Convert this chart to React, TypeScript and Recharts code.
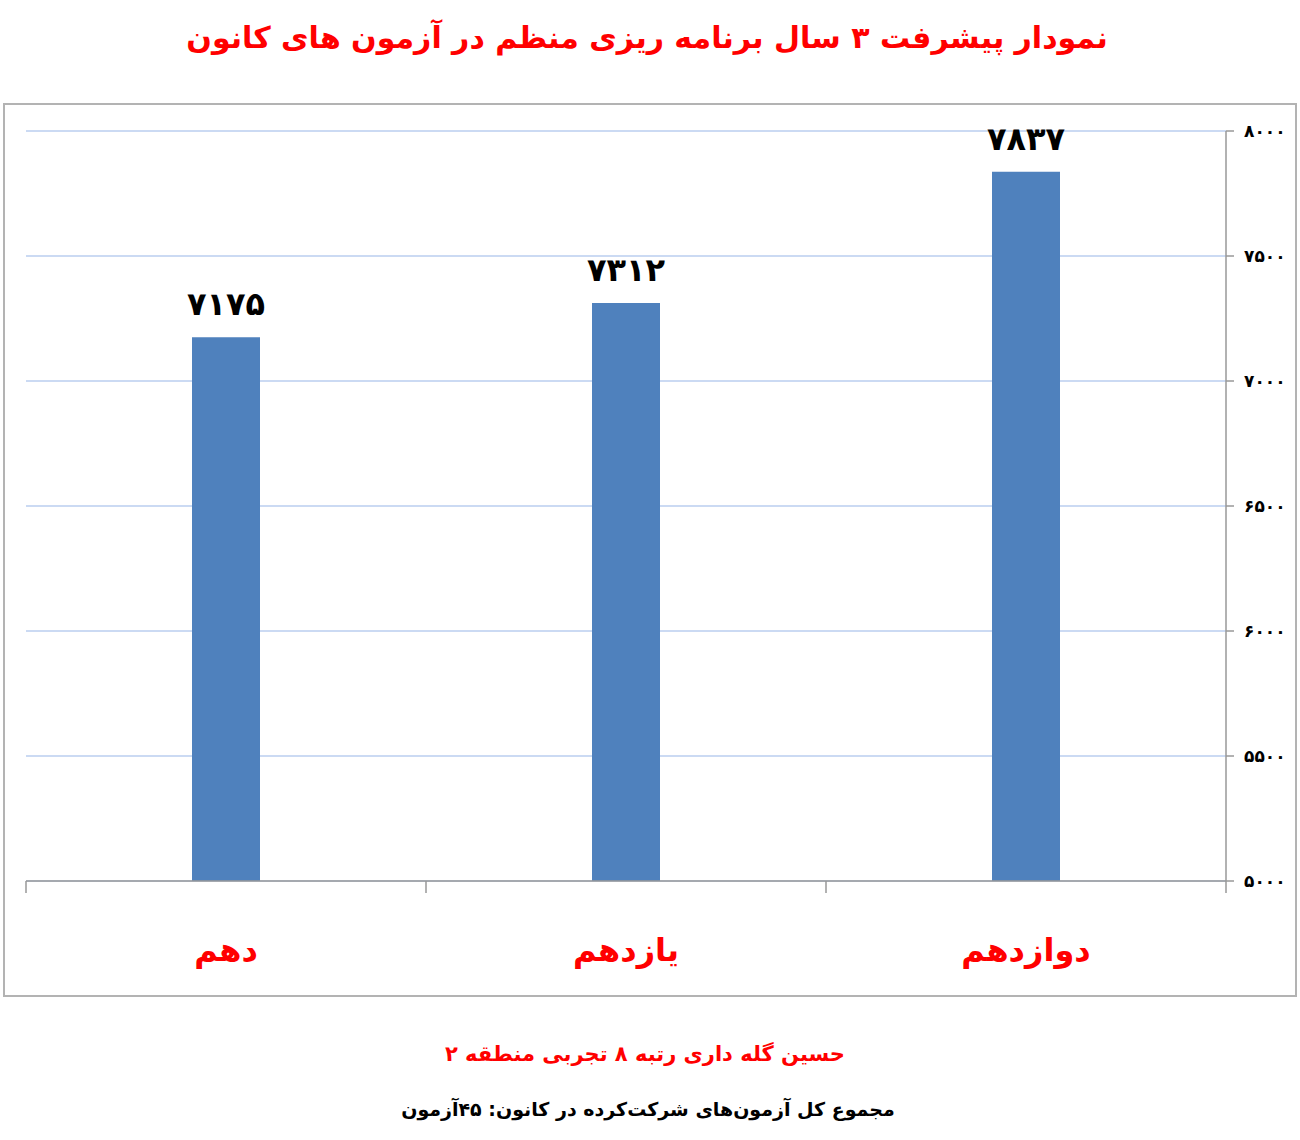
import React from "react";
import {
  BarChart,
  Bar,
  XAxis,
  YAxis,
  CartesianGrid,
  LabelList,
} from "recharts";

const grades = ["دهم", "یازدهم", "دوازدهم"];
const scores = [7175, 7312, 7837];
const yTicks = [5000, 5500, 6000, 6500, 7000, 7500, 8000];

const title = "نمودار پیشرفت ۳ سال برنامه ریزی منظم در آزمون های کانون";
const footerName = "حسین گله داری رتبه ۸ تجربی منطقه ۲";
const footerCount = "مجموع کل آزمون‌های شرکت‌کرده در کانون:  ۴۵آزمون";

const data = grades.map((name, i) => ({ name, value: scores[i] }));

const FONT = "'DejaVu Sans', sans-serif";
const faDigits = (v: number | string) =>
  String(v).replace(/[0-9]/g, (d) => "۰۱۲۳۴۵۶۷۸۹"[Number(d)]);

// category label plus tick marks on the band edges (Excel style)
const CategoryTick = ({ x, y, payload, index, visibleTicksCount }: any) => {
  const half = payload.offset || 0;
  const last = index === (visibleTicksCount ?? grades.length) - 1;
  return (
    <g>
      <line x1={x - half} x2={x - half} y1={y} y2={y + 12} stroke="#999" strokeWidth={1.5} />
      {last && (
        <line x1={x + half} x2={x + half} y1={y} y2={y + 12} stroke="#999" strokeWidth={1.5} />
      )}
      <text
        x={x}
        y={y + 80}
        textAnchor="middle"
        fill="#ff0000"
        fontSize={32}
        fontWeight="bold"
        fontFamily={FONT}
        direction="rtl"
      >
        {payload.value}
      </text>
    </g>
  );
};

export default function App() {
  return (
    <div
      style={{
        position: "absolute",
        left: 0,
        top: 0,
        width: 1300,
        height: 1140,
        background: "#fff",
        fontFamily: FONT,
      }}
    >
      <div
        style={{
          position: "absolute",
          top: 20,
          left: 0,
          width: 1294,
          textAlign: "center",
          color: "#ff0000",
          fontSize: 30,
          fontWeight: "bold",
          direction: "rtl",
        }}
      >
        {title}
      </div>
      <div
        style={{
          position: "absolute",
          left: 3,
          top: 103,
          width: 1294,
          height: 894,
          boxSizing: "border-box",
          border: "2px solid #b3b3b3",
        }}
      />
      <div style={{ position: "absolute", left: 3, top: 103 }}>
        <BarChart
          width={1294}
          height={894}
          data={data}
          margin={{ top: 28, right: 10, left: 23, bottom: 0 }}
          barCategoryGap="41.5%"
        >
          <CartesianGrid
            horizontal
            vertical={false}
            stroke="#97b6e8"
            strokeWidth={1.2}
          />
          <XAxis
            dataKey="name"
            stroke="#999"
            strokeWidth={1.5}
            tickLine={false}
            tickSize={0}
            tickMargin={0}
            height={116}
            tick={<CategoryTick />}
            interval={0}
          />
          <YAxis
            orientation="right"
            domain={[5000, 8000]}
            ticks={yTicks}
            interval={0}
            width={61}
            stroke="#999"
            strokeWidth={1.5}
            tickSize={8}
            tickMargin={10}
            tick={{ fill: "#000", fontSize: 17, fontWeight: "bold", fontFamily: FONT, textAnchor: "start" }}
            tickFormatter={(v: number) => faDigits(v)}
          />
          <Bar dataKey="value" fill="#4f81bd" isAnimationActive={false}>
            <LabelList
              dataKey="value"
              position="top"
              offset={22}
              fill="#000"
              fontSize={32}
              fontWeight="bold"
              fontFamily={FONT}
              formatter={(v: any) => faDigits(v)}
            />
          </Bar>
        </BarChart>
      </div>
      <div
        style={{
          position: "absolute",
          top: 1042,
          left: 0,
          width: 1290,
          textAlign: "center",
          color: "#ff0000",
          fontSize: 21,
          fontWeight: "bold",
          direction: "rtl",
        }}
      >
        {footerName}
      </div>
      <div
        style={{
          position: "absolute",
          top: 1098,
          left: 0,
          width: 1296,
          textAlign: "center",
          color: "#000",
          fontSize: 19,
          fontWeight: "bold",
          direction: "rtl",
        }}
      >
        {footerCount}
      </div>
    </div>
  );
}
